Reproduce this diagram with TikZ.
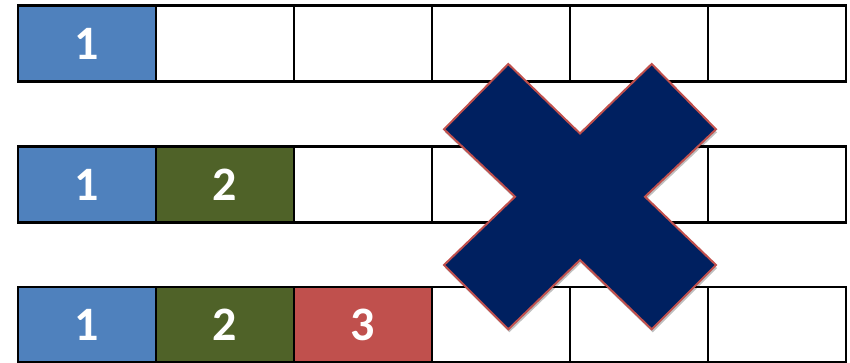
\documentclass[tikz,border=0pt]{standalone}
\usepackage{fontspec}
\setmainfont{Carlito}
\usetikzlibrary{shadows}
\definecolor{cblue}{HTML}{4F81BD}
\definecolor{cgreen}{HTML}{4F6228}
\definecolor{cred}{HTML}{C0504D}
\definecolor{navy}{HTML}{002060}
\begin{document}
\begin{tikzpicture}[x=1pt,y=-1pt,
  cell/.style={draw=black,line width=2.6pt,minimum width=138pt,minimum height=75.5pt,inner sep=0pt,anchor=north west,
    font=\fontsize{48}{48}\selectfont\bfseries,text=white}]
\useasboundingbox (0,0) rectangle (850,363);
% row 1
\node[cell,fill=cblue] (a1) at (16.5,4.5) {1};
\node[cell] (a2) at (154.5,4.5) {};
\node[cell] (a3) at (292.5,4.5) {};
\node[cell] (a4) at (430.5,4.5) {};
\node[cell] (a5) at (568.5,4.5) {};
\node[cell] (a6) at (706.5,4.5) {};
% row 2
\node[cell,fill=cblue] (b1) at (16.5,145.5) {1};
\node[cell,fill=cgreen] (b2) at (154.5,145.5) {2};
\node[cell] (b3) at (292.5,145.5) {};
\node[cell] (b4) at (430.5,145.5) {};
\node[cell] (b5) at (568.5,145.5) {};
\node[cell] (b6) at (706.5,145.5) {};
% row 3
\node[cell,fill=cblue] (c1) at (16.5,285.5) {1};
\node[cell,fill=cgreen] (c2) at (154.5,285.5) {2};
\node[cell,fill=cred] (c3) at (292.5,285.5) {3};
\node[cell] (c4) at (430.5,285.5) {};
\node[cell] (c5) at (568.5,285.5) {};
\node[cell] (c6) at (706.5,285.5) {};
% cross
\draw[fill=navy,draw=cred,line width=2pt,line join=miter,
  drop shadow={shadow xshift=1pt,shadow yshift=-3pt,opacity=0.25,fill=black}]
  (508.3,64) -- (580,133.5) -- (651.7,64) -- (716,129.3) -- (645,196.7)
  -- (716,265) -- (651.7,329.3) -- (580,260) -- (508.3,329.3) -- (444,265)
  -- (515,196.7) -- (444,129.3) -- cycle;
\end{tikzpicture}
\end{document}
